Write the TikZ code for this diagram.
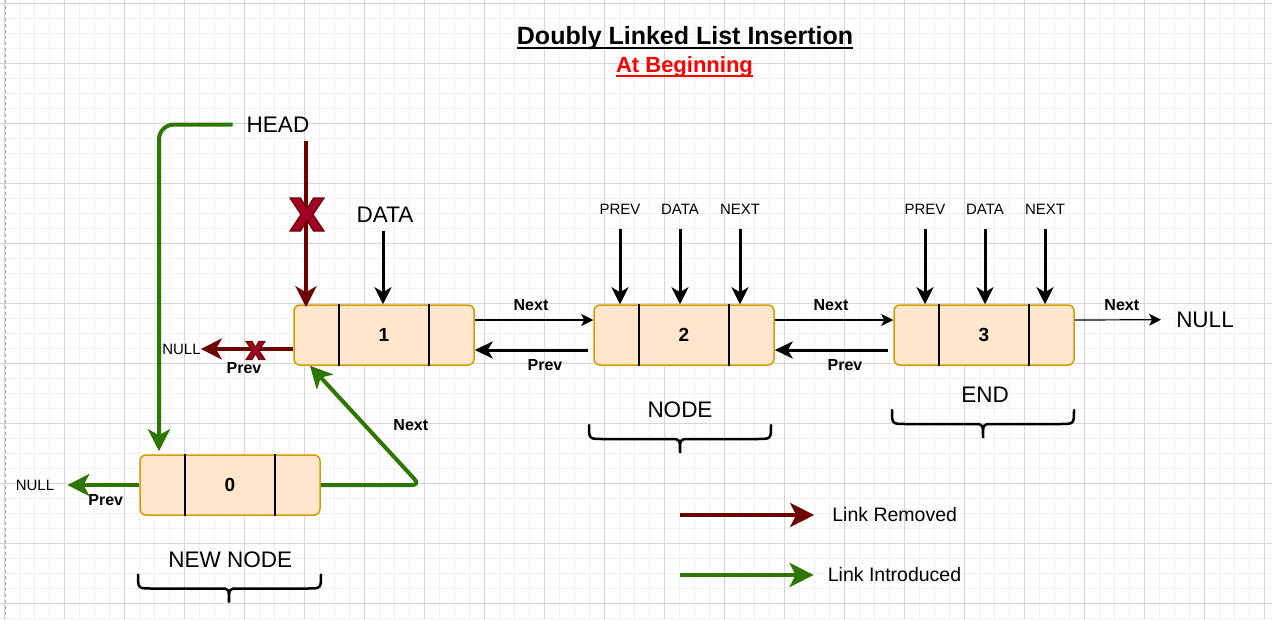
\documentclass[tikz,border=0pt]{standalone}
\usepackage{fontspec}
\setmainfont{Liberation Sans}
\usetikzlibrary{arrows.meta}
\definecolor{cellfill}{HTML}{FFE6CC}
\definecolor{cellline}{HTML}{D79B00}
\definecolor{linkred}{HTML}{6F0000}
\definecolor{crossred}{HTML}{A20025}
\definecolor{linkgreen}{HTML}{2D7600}
\definecolor{gridmajor}{HTML}{D6D6D6}
\definecolor{gridminor}{HTML}{F2F2F2}
\newcommand\fsz[1]{\fontsize{#1}{#1}\selectfont}

\begin{document}
\begin{tikzpicture}[x=1pt, y=-1pt,
    cell/.style={draw=cellline, fill=cellfill, line width=1.5pt, rounded corners=6pt,
      minimum width=180pt, minimum height=60pt, inner sep=0pt, font=\fsz{19}\bfseries},
    lbl/.style={inner sep=0pt, font=\fsz{#1}},
    lbl/.default=22.5,
    blbl/.style={inner sep=0pt, font=\fsz{16}\bfseries},
    ptr/.style={line width=3pt, -{Stealth[length=17pt, width=17pt, inset=5pt]}},
    nextarrow/.style={line width=1.2pt, -{Stealth[length=12pt, width=12pt, inset=3pt]}},
    prevarrow/.style={line width=3pt, -{Stealth[length=18pt, width=17pt, inset=5pt]}},
    removed/.style={draw=linkred, line width=4pt, -{Stealth[length=21pt, width=21pt, inset=6pt]}},
    introduced/.style={draw=linkgreen, line width=4pt, -{Stealth[length=22pt, width=22pt, inset=6pt]}},
    legendtip/.style={-{Stealth[length=24pt, width=24pt, inset=6pt]}},
    bracket/.style={line width=2.5pt, line cap=round}
  ]
  \useasboundingbox (0,0) rectangle (1272,619);

  % grid paper
  \fill[white] (0,0) rectangle (1272,619);
  \foreach \i in {0,...,84} \draw[gridminor, line width=1pt] (4.7+15*\i,0) -- (4.7+15*\i,619);
  \foreach \i in {0,...,41} \draw[gridminor, line width=1pt] (0,3.3+15*\i) -- (1272,3.3+15*\i);
  \foreach \i in {0,...,21} \draw[gridmajor, line width=1pt] (4.7+60*\i,0) -- (4.7+60*\i,619);
  \foreach \i in {0,...,10} \draw[gridmajor, line width=1pt] (0,3.3+60*\i) -- (1272,3.3+60*\i);
  \draw[gray!70, dashed, line width=1pt] (5,0) -- (5,619);

  % titles
  \node[inner sep=0pt, font=\fsz{25}\bfseries, anchor=base] (title) at (685,44.3) {Doubly Linked List Insertion};
  \draw[line width=2pt] ([yshift=-4pt]title.base west) -- ([yshift=-4pt]title.base east);
  \node[inner sep=0pt, text=red, font=\fsz{22}\bfseries, anchor=base] (subtitle) at (684.5,72.7) {At Beginning};
  \draw[red, line width=2pt] ([yshift=-3pt]subtitle.base west) -- ([yshift=-3pt]subtitle.base east);

  % list nodes
  \node[cell] (n1) at (384,335) {1};
  \node[cell] (n2) at (684,335) {2};
  \node[cell] (n3) at (984,335) {3};
  \node[cell] (n0) at (230,485) {0};
  \foreach \n in {n0,n1,n2,n3}
    \foreach \dx in {-45,45}
      \draw[line width=1.5pt] ([xshift=\dx]\n.north) -- ([xshift=\dx]\n.south);

  % field labels
  \node[lbl] (head) at (278,124.7) {HEAD};
  \node[lbl] (data1) at (385,215) {DATA};
  \draw[ptr] ([xshift=-2pt,yshift=-8pt]data1.south) -- ([xshift=-1pt]n1.north);
  \foreach \n/\x in {2/680, 3/985} {
    \node[lbl=15] (prev\n) at (\x-60,209.7) {PREV};
    \node[lbl=15] (data\n) at (\x,209.7) {DATA};
    \node[lbl=15] (next\n) at (\x+60,209.7) {NEXT};
    \foreach \f in {prev,data,next}
      \draw[ptr] ([yshift=-14pt]\f\n.south) -- (\f\n.south |- n\n.north);
  }

  % links between nodes
  \node[blbl] (nx12) at (531,305) {Next};
  \node[blbl] (pv12) at (545,364.7) {Prev};
  \node[blbl] (nx23) at (831,305) {Next};
  \node[blbl] (pv23) at (845,364.7) {Prev};
  \node[blbl] (nx3) at (1121.8,305) {Next};
  \node[lbl] (nullR) at (1205,319.7) {NULL};
  \draw[nextarrow] ([yshift=15pt]n1.east) -- ([yshift=15pt]n2.west);
  \draw[prevarrow] ([xshift=-5pt,yshift=-15pt]n2.west) -- ([yshift=-15pt]n1.east);
  \draw[nextarrow] ([yshift=15pt]n2.east) -- ([yshift=15pt]n3.west);
  \draw[prevarrow] ([xshift=-5pt,yshift=-15pt]n3.west) -- ([yshift=-15pt]n2.east);
  \draw[nextarrow] ([yshift=15pt]n3.east) -- ([xshift=-15pt]nullR.west);

  % removed links
  \node[lbl=15] (null1) at (181.5,349) {NULL};
  \node[blbl] (pv1) at (244,367.8) {Prev};
  \draw[removed, shorten >=-3pt] ([xshift=28pt,yshift=-8pt]head.south) -- ([xshift=-78pt]n1.north);
  \draw[removed] ([yshift=-14pt]n1.west) -- (null1.east);

  % introduced links
  \node[lbl=15] (null0) at (35,485) {NULL};
  \node[blbl] (pv0) at (105.8,500.2) {Prev};
  \node[blbl] (nx0) at (410.8,425.2) {Next};
  \coordinate (bend0) at (159,124.5);
  \coordinate (bend1) at (420,485);
  \draw[introduced, rounded corners=15pt, shorten >=3pt] ([xshift=-14pt]head.west) -- (bend0) -- (bend0 |- n0.north);
  \draw[introduced, rounded corners=8pt] (n0.east) -- (bend1) -- ([xshift=-74pt]n1.south);
  \draw[introduced] (n0.west) -- ([xshift=13pt]null0.east);

  % cross marks
  \foreach \cx/\cy/\s in {307/214.5/1, 255.5/350.5/0.55}
    \filldraw[fill=crossred, draw=linkred, line width=1.2pt, shift={(\cx,\cy)}, scale=\s]
      (-17,-16.5) -- (-6.5,-16.5) -- (0,-5.5) -- (6.5,-16.5) -- (17,-16.5) -- (6,0)
      -- (17,16.5) -- (6.5,16.5) -- (0,5.5) -- (-6.5,16.5) -- (-17,16.5) -- (-6,0) -- cycle;

  % braces and group names
  \node[lbl] (grpnode) at (680,409.7) {NODE};
  \node[lbl] (grpend) at (985,394.7) {END};
  \node[lbl] (grpnew) at (230.3,559.5) {NEW NODE};
  \foreach \xl/\xc/\xr/\yt in {589/680/771/425, 892/983/1074/410, 138/229/321/574.5}
    \draw[bracket] (\xl,\yt) .. controls (\xl,\yt+14) .. (\xl+14,\yt+14) -- (\xc-9,\yt+14)
      .. controls (\xc,\yt+14) .. (\xc,\yt+28) .. controls (\xc,\yt+14) .. (\xc+9,\yt+14)
      -- (\xr-14,\yt+14) .. controls (\xr,\yt+14) .. (\xr,\yt);

  % legend
  \node[lbl=19.5] (lgremoved) at (894.7,514.5) {Link Removed};
  \node[lbl=19.5] (lgintro) at (894.5,574.5) {Link Introduced};
  \coordinate (lgr) at (680,515);
  \coordinate (lgi) at (680,575);
  \draw[removed, legendtip] (lgr) -- ([xshift=-18pt]lgremoved.west |- lgr);
  \draw[introduced, legendtip] (lgi) -- ([xshift=-14pt]lgintro.west |- lgi);
\end{tikzpicture}
\end{document}
